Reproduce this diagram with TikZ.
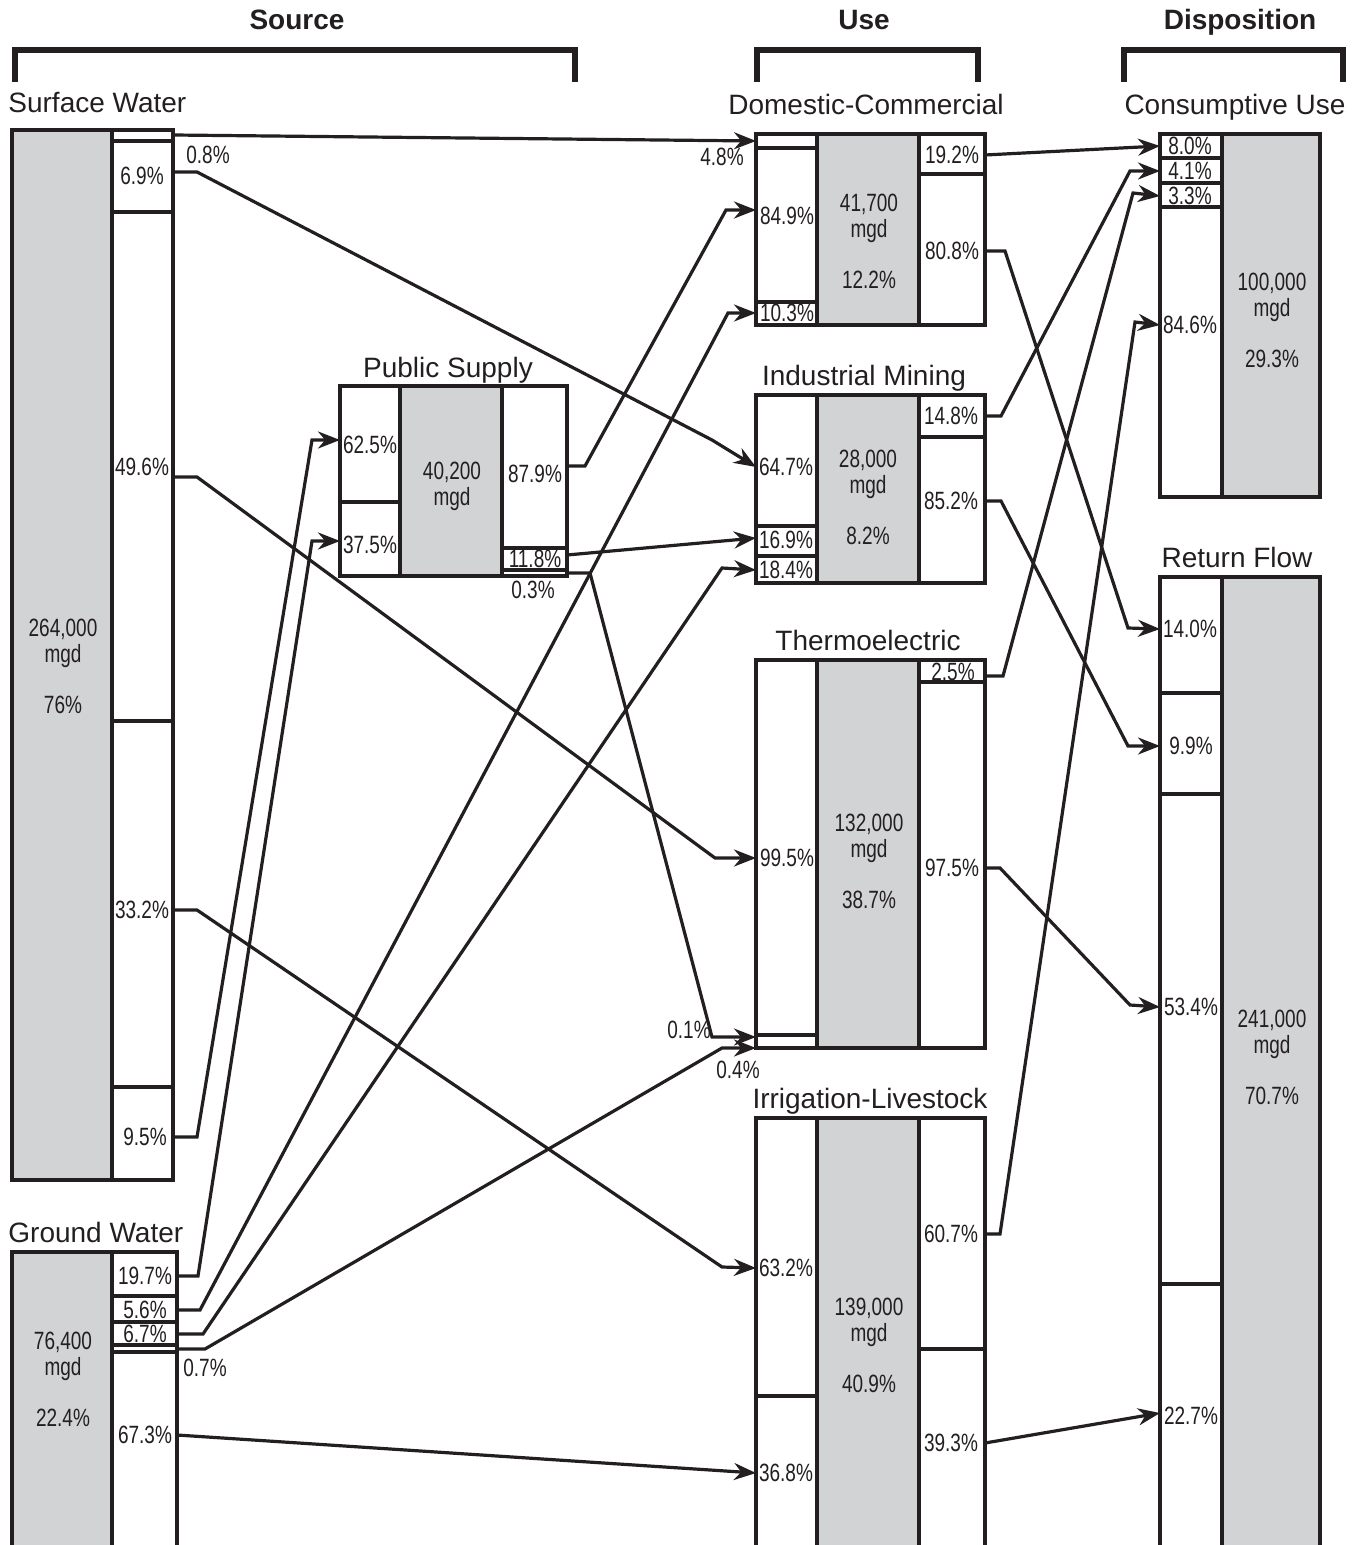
\documentclass[tikz,border=0pt]{standalone}
\usepackage{fontspec}
\setmainfont{Liberation Sans}
\newfontfamily\narrowsans[FakeStretch=0.76]{Liberation Sans}
\usetikzlibrary{arrows.meta}
\definecolor{ink}{RGB}{35,31,32}
\definecolor{boxgrey}{RGB}{210,211,213}
\newcommand\pctfont{\narrowsans\fontsize{12.5}{13}\selectfont}
\newcommand\titlefont{\fontsize{14}{16}\selectfont}
\newcommand\headfont{\bfseries\fontsize{14}{16}\selectfont}
% one column of a bar: style, name, x1, y1, x2, y2 (pixels, y down)
\newcommand\colbox[6]{\node[#1, minimum width={(#5-#3)*0.5pt}, minimum height={(#6-#4)*0.5pt}] (#2) at (#3,#4) {};}
\begin{document}
\begin{tikzpicture}[x=0.5pt, y=-0.5pt,
    cell/.style={draw=ink, line width=1.6pt, fill=white, inner sep=0pt, outer sep=0pt, anchor=north west},
    shade/.style={cell, fill=boxgrey},
    split/.style={draw=ink, line width=1.6pt},
    brk/.style={draw=ink, line width=3.3pt},
    pct/.style={font=\pctfont, text=ink, inner sep=0pt},
    mgd/.style={pct, align=center},
    title/.style={font=\titlefont, text=ink, inner sep=0pt, anchor=base},
    head/.style={font=\headfont, text=ink, inner sep=0pt, anchor=base},
    flow/.style={draw=ink, line width=1.6pt, -{Stealth[length=11pt,width=8.5pt]}}]

    \useasboundingbox (0,0) rectangle (1364,1545);

    % headings and brackets
    \node[head] (source) at (297,30) {Source};
    \node[head] (use)    at (864,30) {Use};
    \node[head] (dispo)  at (1240,30) {Disposition};
    \draw[brk] (15,82)   -- (15,50)   -- (575,50)  -- (575,82);
    \draw[brk] (757,82)  -- (757,50)  -- (978,50)  -- (978,82);
    \draw[brk] (1124,82) -- (1124,50) -- (1343,50) -- (1343,82);

    % source
    \node[title, anchor=base west] (swname) at (8,113) {Surface Water};
    \colbox{shade}{swG}{12}{130}{112}{1180}
    \colbox{cell}{swW}{112}{130}{173}{1180}
    \foreach \y in {141,212,721,1087} \draw[split] (112,\y) -- (173,\y);
    \node[title, anchor=base west] (gwname) at (8,1242) {Ground Water};
    \colbox{shade}{gwG}{12}{1252}{112}{1547}
    \colbox{cell}{gwW}{112}{1252}{177}{1547}
    \foreach \y in {1296,1322,1345,1352} \draw[split] (112,\y) -- (177,\y);

    \node[title] (psname) at (448,378) {Public Supply};
    \colbox{cell}{psL}{340}{386}{400}{576}
    \colbox{shade}{psG}{400}{386}{502}{576}
    \colbox{cell}{psR}{502}{386}{567}{576}
    \draw[split] (340,502) -- (400,502);
    \foreach \y in {548,570} \draw[split] (502,\y) -- (567,\y);

    % use
    \node[title] (dcname) at (866,115) {Domestic-Commercial};
    \colbox{cell}{dcL}{756}{134}{817}{325}
    \colbox{shade}{dcG}{817}{134}{919}{325}
    \colbox{cell}{dcR}{919}{134}{985}{325}
    \foreach \y in {148,302} \draw[split] (756,\y) -- (817,\y);
    \draw[split] (919,174) -- (985,174);

    \node[title] (imname) at (864,386) {Industrial Mining};
    \colbox{cell}{imL}{756}{395}{817}{583}
    \colbox{shade}{imG}{817}{395}{919}{583}
    \colbox{cell}{imR}{919}{395}{985}{583}
    \foreach \y in {526,556} \draw[split] (756,\y) -- (817,\y);
    \draw[split] (919,437) -- (985,437);

    \node[title] (tename) at (868,650) {Thermoelectric};
    \colbox{cell}{teL}{756}{660}{817}{1048}
    \colbox{shade}{teG}{817}{660}{919}{1048}
    \colbox{cell}{teR}{919}{660}{985}{1048}
    \draw[split] (756,1035) -- (817,1035);
    \draw[split] (919,682) -- (985,682);

    \node[title] (ilname) at (870,1108) {Irrigation-Livestock};
    \colbox{cell}{ilL}{756}{1118}{817}{1547}
    \colbox{shade}{ilG}{817}{1118}{919}{1547}
    \colbox{cell}{ilR}{919}{1118}{985}{1547}
    \draw[split] (756,1396) -- (817,1396);
    \draw[split] (919,1349) -- (985,1349);

    % disposition
    \node[title] (cuname) at (1235,115) {Consumptive Use};
    \colbox{cell}{cuL}{1160}{134}{1222}{497}
    \colbox{shade}{cuG}{1222}{134}{1320}{497}
    \foreach \y in {158,183,207} \draw[split] (1160,\y) -- (1222,\y);

    \node[title] (rfname) at (1237,567) {Return Flow};
    \colbox{cell}{rfL}{1160}{577}{1222}{1547}
    \colbox{shade}{rfG}{1222}{577}{1320}{1547}
    \foreach \y in {693,794,1284} \draw[split] (1160,\y) -- (1222,\y);

    % amounts
    \node[mgd] (swq) at (63,666)   {264,000\\mgd\\[12.5pt]76\%};
    \node[mgd] (gwq) at (63,1379)  {76,400\\mgd\\[12.5pt]22.4\%};
    \node[mgd] (psq) at (452,486)  {40,200\\mgd};
    \node[mgd] (dcq) at (869,241)  {41,700\\mgd\\[12.5pt]12.2\%};
    \node[mgd] (imq) at (868,497)  {28,000\\mgd\\[12.5pt]8.2\%};
    \node[mgd] (teq) at (869,861)  {132,000\\mgd\\[12.5pt]38.7\%};
    \node[mgd] (ilq) at (869,1345) {139,000\\mgd\\[12.5pt]40.9\%};
    \node[mgd] (cuq) at (1272,320) {100,000\\mgd\\[12.5pt]29.3\%};
    \node[mgd] (rfq) at (1272,1057) {241,000\\mgd\\[12.5pt]70.7\%};

    % shares
    \node[pct] (sw08)  at (208,155)  {0.8\%};
    \node[pct] (sw69)  at (142,176)  {6.9\%};
    \node[pct] (sw496) at (142,467)  {49.6\%};
    \node[pct] (sw332) at (142,910)  {33.2\%};
    \node[pct] (sw95)  at (145,1137) {9.5\%};
    \node[pct] (gw197) at (145,1276) {19.7\%};
    \node[pct] (gw56)  at (145,1310) {5.6\%};
    \node[pct] (gw67)  at (145,1334) {6.7\%};
    \node[pct] (gw07)  at (205,1368) {0.7\%};
    \node[pct] (gw673) at (145,1435) {67.3\%};
    \node[pct] (ps625) at (370,445)  {62.5\%};
    \node[pct] (ps375) at (370,545)  {37.5\%};
    \node[pct] (ps879) at (535,474)  {87.9\%};
    \node[pct] (ps118) at (535,559)  {11.8\%};
    \node[pct] (ps03)  at (533,590)  {0.3\%};
    \node[pct] (dc48)  at (722,157)  {4.8\%};
    \node[pct] (dc849) at (787,216)  {84.9\%};
    \node[pct] (dc103) at (787,313)  {10.3\%};
    \node[pct] (dc192) at (952,155)  {19.2\%};
    \node[pct] (dc808) at (952,251)  {80.8\%};
    \node[pct] (im647) at (786,467)  {64.7\%};
    \node[pct] (im169) at (786,540)  {16.9\%};
    \node[pct] (im184) at (786,570)  {18.4\%};
    \node[pct] (im148) at (951,416)  {14.8\%};
    \node[pct] (im852) at (951,501)  {85.2\%};
    \node[pct] (te995) at (787,858)  {99.5\%};
    \node[pct] (te01)  at (689,1030) {0.1\%};
    \node[pct] (te04)  at (738,1070) {0.4\%};
    \node[pct] (te25)  at (953,672)  {2.5\%};
    \node[pct] (te975) at (952,868)  {97.5\%};
    \node[pct] (il632) at (786,1268) {63.2\%};
    \node[pct] (il368) at (786,1473) {36.8\%};
    \node[pct] (il607) at (951,1234) {60.7\%};
    \node[pct] (il393) at (951,1443) {39.3\%};
    \node[pct] (cu80)  at (1190,146) {8.0\%};
    \node[pct] (cu41)  at (1190,171) {4.1\%};
    \node[pct] (cu33)  at (1190,196) {3.3\%};
    \node[pct] (cu846) at (1190,325) {84.6\%};
    \node[pct] (rf140) at (1190,629) {14.0\%};
    \node[pct] (rf99)  at (1191,746) {9.9\%};
    \node[pct] (rf534) at (1191,1007) {53.4\%};
    \node[pct] (rf227) at (1191,1416) {22.7\%};

    % ports of the thin cells
    \coordinate (swtop) at (173,135);
    \coordinate (dctop) at (756,141);
    \coordinate (gwlow) at (177,1349);
    \coordinate (pslow) at (567,573);
    \coordinate (temid) at (756,1037);
    \coordinate (tebot) at (756,1048);

    % source -> use
    \draw[flow] (swtop) -- (dctop);
    \draw[flow] ([yshift=2pt]sw69.center -| swW.east) -- ++(24,0) -- (712,440) -- (im647 -| imL.west);
    \draw[flow] ([yshift=-5pt]sw496.center -| swW.east) -- ++(24,0) -- (715,858) -- (te995 -| teL.west);
    \draw[flow] (sw332 -| swW.east) -- ++(24,0) -- (722,1267) -- (il632 -| ilL.west);
    \draw[flow] (sw95 -| swW.east) -- ++(24,0) -- (312,440) -- ([yshift=2.5pt]ps625.center -| psL.west);
    \draw[flow] (gw197 -| gwW.east) -- ++(21,0) -- (312,541) -- ([yshift=2pt]ps375.center -| psL.west);
    \draw[flow] (gw56 -| gwW.east) -- ++(23,0) -- (728,313) -- (dc103 -| dcL.west);
    \draw[flow] (gw67 -| gwW.east) -- ++(26,0) -- (722,568) -- (im184 -| imL.west);
    \draw[flow] (gwlow) -- ++(28,0) -- (722,1048) -- (tebot);
    \draw[flow] (gw673 -| gwW.east) -- (il368 -| ilL.west);
    \draw[flow] ([yshift=4pt]ps879.center -| psR.east) -- ++(18,0) -- (726,210) -- ([yshift=3pt]dc849.center -| dcL.west);
    \draw[flow] ([yshift=2pt]ps118.center -| psR.east) -- ([yshift=1pt]im169.center -| imL.west);
    \draw[flow] (pslow) -- ++(23,0) -- (712,1037) -- (temid);

    % use -> disposition
    \draw[flow] (dc192 -| dcR.east) -- (cu80 -| cuL.west);
    \draw[flow] (dc808 -| dcR.east) -- ++(20,0) -- (1128,628) -- (rf140 -| rfL.west);
    \draw[flow] (im148 -| imR.east) -- ++(16,0) -- (1130,171) -- (cu41 -| cuL.west);
    \draw[flow] (im852 -| imR.east) -- ++(16,0) -- (1128,746) -- (rf99 -| rfL.west);
    \draw[flow] ([yshift=-2pt]te25.center -| teR.east) -- ++(18,0) -- (1133,193) -- (cu33 -| cuL.west);
    \draw[flow] (te975 -| teR.east) -- ++(15,0) -- (1130,1005) -- (rf534 -| rfL.west);
    \draw[flow] (il607 -| ilR.east) -- ++(15,0) -- (1135,322) -- (cu846 -| cuL.west);
    \draw[flow] (il393 -| ilR.east) -- ([yshift=1.5pt]rf227.center -| rfL.west);
\end{tikzpicture}
\end{document}
